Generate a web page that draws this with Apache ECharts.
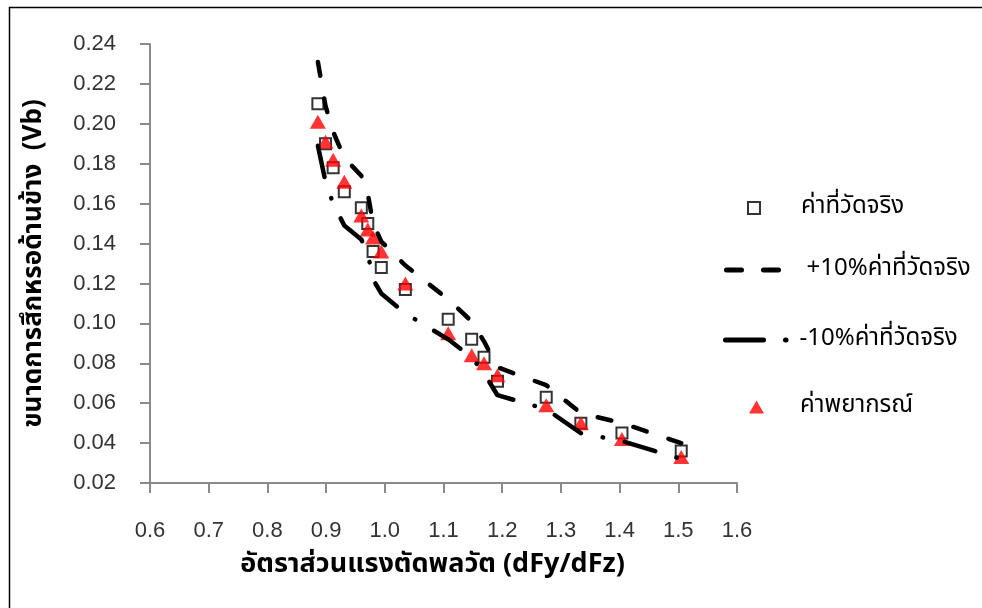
<!DOCTYPE html>
<html>
<head>
<meta charset="utf-8">
<script src="https://cdn.jsdelivr.net/npm/echarts@6/dist/echarts.min.js"></script>
<style>
  html, body { margin: 0; padding: 0; background: #fff; }
  #chart { width: 982px; height: 608px; }
</style>
</head>
<body>
<div id="chart"></div>
<script>
// Dynamic cutting-force ratio (dFy/dFz) for each test
const ratio = [0.886, 0.899, 0.912, 0.931, 0.960, 0.971, 0.980, 0.994, 1.035,
               1.108, 1.148, 1.169, 1.192, 1.275, 1.334, 1.404, 1.505];
// Measured flank wear Vb
const measured = [0.210, 0.190, 0.178, 0.166, 0.158, 0.150, 0.136, 0.128, 0.117,
                  0.102, 0.092, 0.083, 0.071, 0.063, 0.050, 0.045, 0.036];
// Upper band: measured + 10%
const upperBand = [0.231, 0.209, 0.196, 0.183, 0.174, 0.165, 0.150, 0.141, 0.129,
                   0.112, 0.101, 0.091, 0.078, 0.069, 0.055, 0.050, 0.040];
// Lower band: measured - 10%
const lowerBand = [0.189, 0.171, 0.160, 0.149, 0.142, 0.135, 0.122, 0.115, 0.105,
                   0.092, 0.083, 0.075, 0.064, 0.057, 0.045, 0.041, 0.032];
// Predicted flank wear
const predicted = [0.201, 0.191, 0.182, 0.171, 0.154, 0.147, 0.143, 0.136, 0.120,
                   0.095, 0.084, 0.080, 0.074, 0.059, 0.050, 0.042, 0.033];

const seriesNames = ['ค่าที่วัดจริง', '+10%ค่าที่วัดจริง', '-10%ค่าที่วัดจริง', 'ค่าพยากรณ์'];
const xTitle = 'อัตราส่วนแรงตัดพลวัต (dFy/dFz)';
const yTitle = 'ขนาดการสึกหรอด้านข้าง  (Vb)';

const pairs = ys => ratio.map((x, i) => [x, ys[i]]);

const thaiFont = '"Noto Sans Thai", "Noto Sans", "DejaVu Sans", sans-serif';
const numFont = '"Liberation Sans", Arial, sans-serif';
const axisGray = '#8a8a8a';

const legendText = (padLeft) => ({
  fontFamily: thaiFont, fontSize: 24, color: '#000', lineHeight: 30,
  padding: [0, 0, 0, padLeft]
});

const chart = echarts.init(document.getElementById('chart'), null, { renderer: 'canvas' });

chart.setOption({
  animation: false,
  backgroundColor: '#fff',
  grid: { left: 150, right: 245, top: 44, bottom: 125, containLabel: false },
  graphic: [{
    type: 'polyline',
    shape: { points: [[9.5, 610], [9.5, 7.5], [984, 7.5]] },
    style: { stroke: '#000', lineWidth: 1.5, fill: null },
    silent: true
  }],
  legend: [
    {
      data: [seriesNames[0]], left: 747, top: 193, padding: 0,
      itemWidth: 12, itemHeight: 12, textStyle: legendText(36),
      selectedMode: false
    },
    {
      data: [seriesNames[1]], left: 724, top: 255, padding: 0,
      itemWidth: 75, itemHeight: 2, textStyle: legendText(0),
      itemStyle: { opacity: 0 },
      lineStyle: { color: '#000', width: 5, type: [15, 22, 15, 100], cap: 'round' },
      selectedMode: false
    },
    {
      data: [seriesNames[2]], left: 723, top: 325, padding: 0,
      itemWidth: 69, itemHeight: 2, textStyle: legendText(0),
      itemStyle: { opacity: 0 },
      lineStyle: { color: '#000', width: 5, type: [38, 22, 0.5, 100], cap: 'round' },
      selectedMode: false
    },
    {
      data: [seriesNames[3]], left: 749, top: 392, padding: 0,
      itemWidth: 15, itemHeight: 13, textStyle: legendText(31),
      selectedMode: false
    }
  ],
  xAxis: {
    type: 'value',
    min: 0.6, max: 1.6, interval: 0.1,
    name: xTitle,
    nameLocation: 'middle',
    nameGap: 70,
    nameTextStyle: { fontFamily: thaiFont, fontSize: 27, fontWeight: 'bold', color: '#000', padding: [0, 22, 0, 0] },
    axisLine: { onZero: false, lineStyle: { color: axisGray, width: 2 } },
    axisTick: { length: 10, lineStyle: { color: axisGray, width: 2 } },
    axisLabel: {
      margin: 37, fontFamily: numFont, fontSize: 22, color: '#333',
      formatter: v => v.toFixed(1)
    },
    splitLine: { show: false }
  },
  yAxis: {
    type: 'value',
    min: 0.02, max: 0.24, interval: 0.02,
    name: yTitle,
    nameLocation: 'middle',
    nameGap: 101,
    nameTextStyle: { fontFamily: thaiFont, fontSize: 26, fontWeight: 'bold', color: '#000' },
    axisLine: { show: true, onZero: false, lineStyle: { color: axisGray, width: 2 } },
    axisTick: { show: true, length: 10, lineStyle: { color: axisGray, width: 2 } },
    axisLabel: {
      margin: 34, fontFamily: numFont, fontSize: 22, color: '#333',
      formatter: v => v.toFixed(2)
    },
    splitLine: { show: false }
  },
  series: [
    {
      name: seriesNames[0],
      type: 'scatter',
      data: pairs(measured),
      symbol: 'rect',
      symbolSize: 11,
      itemStyle: { color: '#fff', borderColor: '#000', borderWidth: 2 }
    },
    {
      name: seriesNames[1],
      type: 'line',
      data: pairs(upperBand),
      symbol: 'none',
      lineStyle: { color: '#000', width: 4.5, type: [14, 23], cap: 'round', join: 'round' },
      itemStyle: { color: '#000' }
    },
    {
      name: seriesNames[2],
      type: 'line',
      data: pairs(lowerBand),
      symbol: 'none',
      lineStyle: { color: '#000', width: 4.5, type: [32, 22, 0.5, 22], cap: 'round', join: 'round' },
      itemStyle: { color: '#000' }
    },
    {
      name: seriesNames[3],
      type: 'scatter',
      data: pairs(predicted),
      symbol: 'triangle',
      symbolSize: [16, 14],
      itemStyle: { color: '#ff0000' }
    }
  ]
});
</script>
</body>
</html>
